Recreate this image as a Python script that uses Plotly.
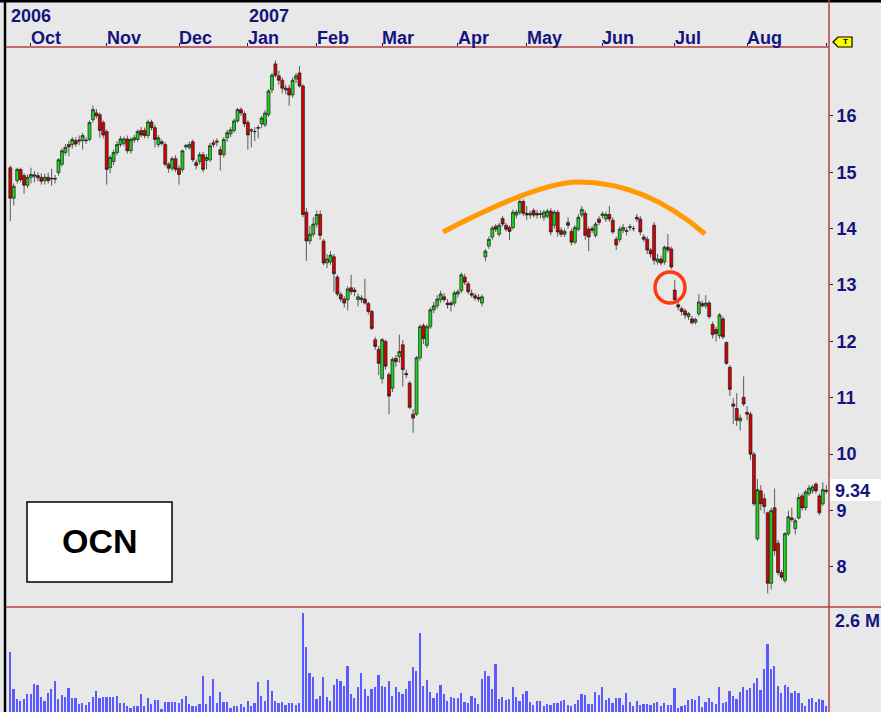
import plotly.graph_objects as go

# ---------------- data (one bar per trading day, 22 Sep 2006 - 4 Sep 2007) ----------------
open_ = [15.08,14.54,14.85,15.05,14.94,14.77,14.91,14.93,14.94,14.91,
         14.85,14.91,14.88,14.89,14.99,15.14,15.35,15.49,15.49,15.56,
         15.55,15.56,15.57,15.58,15.93,16.05,16.02,15.88,15.72,15.08,
         15.19,15.35,15.49,15.51,15.59,15.38,15.57,15.58,15.74,15.74,
         15.65,15.89,15.79,15.49,15.54,15.49,15.14,15.07,15.24,15.07,
         15.05,15.45,15.44,15.54,15.17,15.19,15.31,15.21,15.22,15.52,
         15.53,15.40,15.31,15.61,15.68,15.74,15.91,16.11,16.04,15.88,
         15.73,15.72,15.78,15.86,15.84,16.02,16.46,16.92,16.71,16.63,
         16.49,16.49,16.37,16.65,16.76,16.53,14.29,13.78,13.90,14.08,
         14.25,13.78,13.39,13.41,13.50,13.14,12.83,12.75,12.74,12.95,
         12.91,12.74,12.74,12.75,12.67,12.53,12.03,11.86,11.34,12.00,
         11.41,11.17,11.70,11.73,11.94,11.43,11.26,10.71,10.71,11.71,
         12.28,11.93,12.26,12.56,12.63,12.74,12.79,12.68,12.68,12.68,
         12.84,12.90,13.14,13.02,12.85,12.81,12.78,12.68,13.50,13.69,
         13.85,14.04,13.90,14.18,14.06,14.02,14.02,14.24,14.29,14.48,
         14.27,14.24,14.32,14.27,14.25,14.20,14.22,14.31,14.06,14.29,
         13.97,13.90,14.11,13.95,13.76,13.99,14.24,14.27,13.99,14.00,
         13.88,14.17,14.23,14.17,14.25,14.15,13.81,13.81,13.97,13.95,
         14.02,14.00,14.20,14.17,13.85,13.81,13.62,14.06,13.41,13.46,
         13.41,13.67,13.64,12.91,12.65,12.58,12.54,12.44,12.40,12.34,
         12.49,12.67,12.63,12.68,12.30,12.21,12.10,12.40,11.98,11.54,
         10.89,10.81,10.59,11.01,10.74,10.71,10.00,8.50,9.35,9.21,
         8.96,7.71,9.05,8.42,7.90,7.76,8.59,8.87,8.68,8.87,
         9.26,9.05,9.30,9.35,9.47,9.26,9.12,9.36]
high = [15.12,14.80,15.08,15.08,14.98,14.96,15.08,15.02,15.00,14.98,
        14.97,14.99,15.06,14.95,15.25,15.42,15.50,15.55,15.62,15.62,
        15.65,15.70,15.62,15.92,16.18,16.12,16.06,15.92,15.76,15.30,
        15.40,15.55,15.64,15.63,15.65,15.62,15.66,15.76,15.80,15.79,
        15.93,15.93,15.84,15.66,15.58,15.53,15.18,15.28,15.30,15.12,
        15.40,15.50,15.54,15.58,15.22,15.36,15.36,15.32,15.52,15.58,
        15.60,15.46,15.62,15.75,15.80,15.95,16.14,16.15,16.08,15.92,
        15.78,15.80,15.84,16.00,16.10,16.47,16.76,16.98,16.80,16.68,
        16.55,16.55,16.68,16.76,16.88,16.56,14.36,14.05,14.20,14.32,
        14.32,13.82,13.55,13.60,13.55,13.18,12.88,12.80,12.98,13.18,
        12.96,12.85,12.82,13.11,12.70,12.56,12.08,11.92,12.06,12.03,
        11.45,11.72,11.76,12.12,12.02,11.50,11.30,10.80,11.74,12.30,
        12.32,12.30,12.60,12.70,12.82,12.90,12.86,12.75,12.72,12.90,
        12.92,13.22,13.20,13.06,12.92,12.86,12.84,12.83,13.64,13.86,
        14.05,14.08,14.10,14.22,14.10,14.06,14.34,14.33,14.52,14.52,
        14.40,14.32,14.36,14.33,14.32,14.33,14.35,14.36,14.33,14.33,
        14.02,14.00,14.20,14.00,14.06,14.25,14.40,14.32,14.04,14.05,
        14.12,14.22,14.30,14.30,14.40,14.20,13.86,14.04,14.08,14.02,
        14.08,14.05,14.26,14.22,13.90,13.86,13.66,14.12,13.55,13.52,
        13.70,13.90,13.68,13.09,12.70,12.62,12.58,12.52,12.45,12.42,
        12.84,12.72,12.82,12.72,12.35,12.26,12.50,12.44,12.00,11.58,
        10.99,11.08,10.70,11.38,10.85,10.75,10.04,9.56,9.45,9.30,
        8.98,9.05,9.39,8.48,7.95,8.62,9.00,9.05,8.86,9.30,
        9.30,9.37,9.45,9.46,9.50,9.30,9.50,9.45]
low = [14.13,14.41,14.80,14.82,14.62,14.72,14.80,14.82,14.84,14.78,
       14.78,14.80,14.76,14.80,14.94,15.10,15.30,15.28,15.42,15.45,
       15.48,15.40,15.50,15.55,15.88,15.95,15.61,15.60,14.78,14.98,
       15.12,15.30,15.45,15.46,15.33,15.33,15.52,15.54,15.62,15.60,
       15.60,15.74,15.44,15.44,15.47,15.10,14.99,15.02,15.00,14.78,
       15.00,15.40,15.40,15.18,15.05,15.14,15.00,15.05,15.18,15.44,
       15.46,15.03,15.26,15.54,15.62,15.70,15.88,16.00,15.80,15.40,
       15.44,15.55,15.60,15.78,15.80,15.98,16.40,16.68,16.55,16.40,
       16.38,16.18,16.32,16.58,16.50,14.20,13.43,13.72,13.85,14.02,
       13.80,13.35,13.30,13.36,12.88,12.80,12.70,12.60,12.55,12.82,
       12.80,12.62,12.68,12.65,12.48,12.20,11.85,11.40,11.25,11.50,
       10.71,11.10,11.55,11.62,11.20,11.35,10.80,10.38,10.68,11.66,
       11.95,11.88,12.22,12.50,12.58,12.68,12.70,12.58,12.53,12.62,
       12.78,12.86,13.00,12.84,12.78,12.72,12.70,12.62,13.42,13.64,
       13.80,13.94,13.86,14.04,13.95,13.80,13.98,14.18,14.24,14.22,
       14.15,14.18,14.20,14.18,14.18,14.14,14.18,13.88,14.00,13.86,
       13.85,13.85,14.00,13.70,13.72,13.95,14.20,13.80,13.60,13.92,
       13.84,14.06,14.18,14.12,14.12,13.90,13.62,13.76,13.92,13.88,
       13.96,13.95,14.12,13.88,13.76,13.55,13.48,13.36,13.36,13.35,
       13.36,13.58,13.28,12.70,12.55,12.46,12.40,12.38,12.30,12.30,
       12.45,12.60,12.58,12.40,12.05,12.00,12.05,12.04,11.58,11.03,
       10.53,10.50,10.42,10.85,10.60,9.90,9.08,8.46,9.00,8.95,
       7.53,7.60,8.20,7.85,7.78,7.72,8.55,8.80,8.58,8.84,
       9.00,9.00,9.26,9.30,9.30,8.92,9.08,9.30]
close = [14.54,14.75,15.05,14.87,14.77,14.91,14.96,14.95,14.90,14.84,
         14.91,14.85,14.89,14.88,15.22,15.38,15.44,15.45,15.58,15.50,
         15.57,15.65,15.56,15.88,16.11,16.00,15.74,15.66,15.05,15.26,
         15.35,15.49,15.59,15.59,15.38,15.58,15.61,15.72,15.66,15.65,
         15.89,15.79,15.58,15.61,15.51,15.14,15.07,15.24,15.05,14.96,
         15.38,15.47,15.49,15.22,15.12,15.31,15.05,15.26,15.47,15.49,
         15.55,15.31,15.58,15.70,15.75,15.91,16.11,16.05,15.86,15.66,
         15.75,15.72,15.79,15.96,16.05,16.44,16.72,16.72,16.63,16.49,
         16.46,16.37,16.63,16.71,16.53,14.25,13.78,13.90,14.08,14.25,
         13.88,13.39,13.46,13.53,13.20,12.84,12.75,12.68,12.93,12.88,
         12.88,12.79,12.77,12.68,12.53,12.23,11.91,11.61,12.03,11.56,
         11.03,11.68,11.64,11.82,11.50,11.41,10.83,10.64,11.71,12.26,
         12.05,12.26,12.56,12.63,12.75,12.84,12.74,12.65,12.65,12.86,
         12.88,13.18,13.05,12.88,12.82,12.77,12.75,12.79,13.60,13.81,
         14.01,13.99,14.06,14.08,13.99,13.95,14.29,14.29,14.48,14.27,
         14.24,14.27,14.24,14.24,14.26,14.29,14.31,13.94,14.29,13.94,
         13.90,13.95,14.06,13.76,14.02,14.20,14.34,13.88,13.85,13.97,
         14.08,14.11,14.26,14.25,14.17,13.94,13.71,13.99,14.02,13.96,
         14.03,14.00,14.17,13.94,13.81,13.62,13.55,13.44,13.46,13.39,
         13.67,13.62,13.32,12.74,12.61,12.53,12.47,12.49,12.33,12.39,
         12.70,12.63,12.68,12.44,12.12,12.14,12.47,12.08,11.61,11.15,
         10.85,10.60,10.64,10.89,10.71,10.00,9.12,9.37,9.12,9.07,
         7.71,9.00,8.29,7.90,7.82,8.59,8.89,8.84,8.82,9.23,
         9.05,9.33,9.40,9.42,9.35,8.96,9.37,9.34]
volume_m = [1.58,0.60,0.34,0.29,0.34,0.47,0.47,0.73,0.71,0.39,
            0.29,0.50,0.60,0.81,0.34,0.45,0.39,0.63,0.37,0.37,
            0.21,0.24,0.18,0.26,0.39,0.55,0.37,0.39,0.39,0.39,
            0.39,0.42,0.24,0.24,0.16,0.10,0.16,0.16,0.47,0.16,
            0.37,0.21,0.31,0.31,0.08,0.26,0.26,0.26,0.26,0.24,
            0.34,0.42,0.21,0.16,0.16,0.21,0.94,0.21,0.42,0.86,
            0.24,0.52,0.26,0.26,0.10,0.16,0.16,0.21,0.13,0.29,
            0.16,0.24,0.79,0.42,0.29,0.84,0.55,0.29,0.24,0.26,
            0.18,0.24,0.24,0.18,0.24,2.60,1.70,1.02,0.92,0.34,
            0.42,0.92,0.39,0.29,0.71,0.86,0.81,0.68,1.20,0.47,
            0.37,0.65,1.02,0.60,0.42,0.60,0.65,0.97,0.68,0.65,
            0.81,0.42,0.65,0.52,0.47,0.60,0.81,1.18,1.07,2.07,
            0.68,0.84,0.52,0.37,0.50,0.71,0.47,0.29,0.39,0.37,
            0.37,0.50,0.26,0.24,0.42,0.37,0.21,0.86,1.07,0.94,
            0.60,1.26,0.34,0.39,0.31,0.34,0.65,0.39,0.29,0.47,
            0.55,0.26,0.18,0.29,0.29,0.16,0.21,0.18,0.24,0.24,
            0.29,0.31,0.18,0.16,0.21,0.31,0.47,0.45,0.21,0.21,
            0.52,0.45,0.65,0.31,0.37,0.24,0.37,0.37,0.18,0.50,
            0.26,0.16,0.29,0.18,0.21,0.21,0.18,0.24,0.26,0.16,
            0.24,0.18,0.18,0.63,0.10,0.16,0.18,0.31,0.34,0.31,
            0.42,0.13,0.26,0.37,0.26,0.21,0.65,0.24,0.26,0.55,
            0.42,0.34,0.52,0.65,0.58,0.63,0.76,0.89,0.58,1.13,
            1.78,1.13,1.20,0.68,0.50,0.71,0.65,0.50,0.55,0.50,
            0.24,0.16,0.34,0.37,0.26,0.34,0.31,0.16]

bar_index = list(range(len(close)))
month_labels = ["Oct", "Nov", "Dec", "Jan", "Feb", "Mar", "Apr", "May", "Jun", "Jul", "Aug"]
month_start = [6, 28, 49, 69, 89, 108, 130, 150, 172, 193, 214]
sep_start = 237
year_labels = ["2006", "2007"]
year_start = [0, 69]
price_ticks = [8, 9, 10, 11, 12, 13, 14, 15, 16]
last_price_label = "9.34"
volume_label = "2.6 M"
ticker = "OCN"

# ---------------- styling ----------------
W, H = 881, 712
ML, MR, MT, MB = 6, 52, 47, 0
PW, PH = W - ML - MR, H - MT - MB
NAVY = "#14147e"
RED_LINE = "#b44040"
FONT = "Liberation Sans, Arial, sans-serif"


def px(x):
    return (x - ML) / PW


def py(y):
    return (H - MB - y) / PH


vol_top = py(607)

fig = go.Figure()
fig.add_trace(go.Candlestick(
    x=bar_index, open=open_, high=high, low=low, close=close,
    increasing=dict(fillcolor="#1ed21e", line=dict(color="#1c1c1c", width=0.7)),
    decreasing=dict(fillcolor="#d80000", line=dict(color="#1c1c1c", width=0.7)),
    whiskerwidth=0, xaxis="x", yaxis="y", showlegend=False, hoverinfo="skip",
))
fig.add_trace(go.Bar(
    x=bar_index, y=volume_m, width=0.5, marker=dict(color="#5a5aff", line=dict(width=0)),
    xaxis="x2", yaxis="y2", showlegend=False, hoverinfo="skip",
))

xr = [-1.25, 237.8]
fig.update_layout(
    width=W, height=H, autosize=False,
    margin=dict(l=ML, r=MR, t=MT, b=MB, pad=0),
    paper_bgcolor="#e8e8e8", plot_bgcolor="#e8e8e8",
    boxgap=0.08, boxgroupgap=0.08, bargap=0,
    xaxis=dict(domain=[0, 1], range=xr, anchor="y", side="top",
               showgrid=False, zeroline=False, showline=False,
               rangeslider=dict(visible=False),
               tickvals=month_start + [sep_start], ticks="outside", ticklen=3,
               tickcolor=NAVY, tickwidth=1, showticklabels=False),
    xaxis2=dict(domain=[0, 1], range=xr, anchor="y2", matches="x",
                showgrid=False, zeroline=False, showline=False,
                showticklabels=False, ticks=""),
    yaxis=dict(domain=[vol_top, 1], range=[7.29, 17.22], side="right", anchor="x",
               showgrid=False, zeroline=False, showline=False,
               tickvals=price_ticks, ticktext=[str(v) for v in price_ticks],
               ticks="outside", ticklen=3, tickcolor=NAVY, tickwidth=1,
               tickfont=dict(family=FONT, size=18, color=NAVY, weight="bold")),
    yaxis2=dict(domain=[0, vol_top], range=[0, 2.75], anchor="x2",
                showgrid=False, zeroline=False, showline=False,
                showticklabels=False, ticks=""),
    font=dict(family=FONT),
)

shapes = []
# frame lines
shapes.append(dict(type="line", xref="paper", yref="paper", x0=px(0), x1=px(W), y0=py(1.2), y1=py(1.2),
                   line=dict(color="black", width=2.5)))
shapes.append(dict(type="line", xref="paper", yref="paper", x0=px(5), x1=px(5), y0=py(0), y1=py(H),
                   line=dict(color="black", width=2.5)))
shapes.append(dict(type="line", xref="paper", yref="paper", x0=px(6), x1=px(829), y0=py(47), y1=py(47),
                   line=dict(color=RED_LINE, width=1.5)))
shapes.append(dict(type="line", xref="paper", yref="paper", x0=px(829), x1=px(829), y0=py(0), y1=py(H),
                   line=dict(color=RED_LINE, width=1.5)))
shapes.append(dict(type="line", xref="paper", yref="paper", x0=px(6), x1=px(W), y0=py(607), y1=py(607),
                   line=dict(color=RED_LINE, width=1.5)))
# last price box
shapes.append(dict(type="rect", xref="paper", yref="paper", x0=px(830), x1=px(W), y0=py(501), y1=py(479),
                   fillcolor="white", line=dict(width=0)))
# yellow tag
tag = "M {},{} L {},{} L {},{} L {},{} L {},{} Z".format(
    px(833), py(42), px(838), py(37), px(852), py(37), px(852), py(47), px(838), py(47))
shapes.append(dict(type="path", xref="paper", yref="paper", path=tag, fillcolor="#ffff00",
                   line=dict(color="black", width=1.2)))
# ticker box
shapes.append(dict(type="rect", xref="paper", yref="paper", x0=px(27), x1=px(172), y0=py(582), y1=py(502),
                   fillcolor="white", line=dict(color="black", width=1.5)))
# orange arc
arc = "M {},{} Q {},{} {},{} Q {},{} {},{}".format(
    px(443), py(232), px(539), py(182), px(578), py(182), px(645), py(182), px(705), py(234))
shapes.append(dict(type="path", xref="paper", yref="paper", path=arc,
                   line=dict(color="#ff9a00", width=5)))
# red circle
shapes.append(dict(type="circle", xref="paper", yref="paper", x0=px(655), x1=px(685), y0=py(303), y1=py(272),
                   line=dict(color="#ff3a10", width=3.5)))
fig.update_layout(shapes=shapes)

ann = []
lab_font = dict(family=FONT, size=18, color=NAVY, weight="bold")
for lab, i in zip(month_labels, month_start):
    ann.append(dict(x=i, xref="x", y=py(38.5), yref="paper", text=lab, showarrow=False,
                    xanchor="left", yanchor="middle", xshift=-2, font=lab_font))
for lab, i in zip(year_labels, year_start):
    ann.append(dict(x=i, xref="x", y=py(15.5), yref="paper", text=lab, showarrow=False,
                    xanchor="left", yanchor="middle", xshift=-1, font=lab_font))
ann.append(dict(x=px(833), xref="paper", y=py(490.5), yref="paper", text=last_price_label,
                showarrow=False, xanchor="left", yanchor="middle", font=lab_font))
ann.append(dict(x=px(833), xref="paper", y=py(621), yref="paper", text=volume_label,
                showarrow=False, xanchor="left", yanchor="middle", font=lab_font))
ann.append(dict(x=px(99.5), xref="paper", y=py(541), yref="paper", text=ticker,
                showarrow=False, xanchor="center", yanchor="middle",
                font=dict(family=FONT, size=34, color="black", weight="bold")))
ann.append(dict(x=px(845), xref="paper", y=py(42), yref="paper", text="T",
                showarrow=False, xanchor="center", yanchor="middle",
                font=dict(family=FONT, size=8, color="black", weight="bold")))
fig.update_layout(annotations=ann)

fig.write_html("out.html", config={"displayModeBar": False},
               post_script="document.body.style.margin='0px';document.body.style.overflow='hidden';")
